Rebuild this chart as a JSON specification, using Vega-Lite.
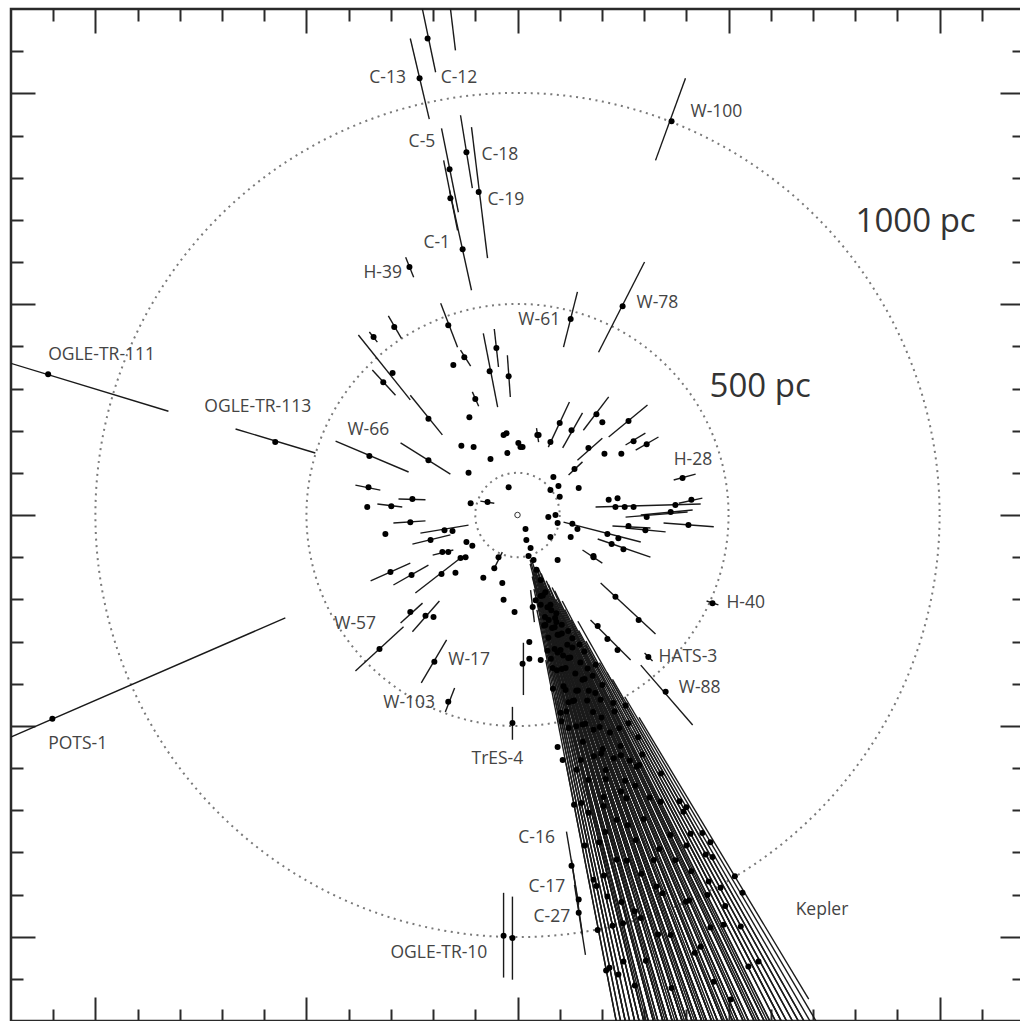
{
"$schema": "https://vega.github.io/schema/vega-lite/v6.json",
"width": 1013, "height": 1012,
"autosize": {"type": "none"},
"padding": {"left": 11, "top": 9, "right": 0, "bottom": 0},
"background": "white",
"config": {"view": {"stroke": "#2a2a2a", "strokeWidth": 2.5}},
"datasets": {
"rings": [{"cx": 0, "cy": 0, "r": 100}, {"cx": 0, "cy": 0, "r": 500}, {"cx": 0, "cy": 0, "r": 1000}],
"sun": [{"cx": 0, "cy": 0}],
"stars": [
{"x":-213,"y":1130,"x1":-232,"y1":1232,"x2":-194,"y2":1050},
{"x":-170,"y":1290,"x1":-166,"y1":1260,"x2":-147,"y2":1102},
{"x":-232,"y":1036,"x1":-254,"y1":1130,"x2":-209,"y2":939},
{"x":-161,"y":820,"x1":-180,"y1":917,"x2":-140,"y2":718},
{"x":-159,"y":751,"x1":-175,"y1":841,"x2":-142,"y2":675},
{"x":-130,"y":630,"x1":-161,"y1":770,"x2":-109,"y2":533},
{"x":-121,"y":860,"x1":-135,"y1":948,"x2":-107,"y2":775},
{"x":-92,"y":766,"x1":-109,"y1":920,"x2":-71,"y2":609},
{"x":-256,"y":588,"x1":-265,"y1":611,"x2":-246,"y2":564},
{"x":365,"y":934,"x1":398,"y1":1036,"x2":327,"y2":841},
{"x":249,"y":495,"x1":301,"y1":600,"x2":192,"y2":386},
{"x":126,"y":465,"x1":142,"y1":529,"x2":109,"y2":398},
{"x":-574,"y":173,"x1":-668,"y1":204,"x2":-479,"y2":147},
{"x":-1112,"y":334,"x1":-1300,"y1":390,"x2":-827,"y2":246},
{"x":-1102,"y":-483,"x1":-1300,"y1":-570,"x2":-550,"y2":-244},
{"x":-351,"y":140,"x1":-431,"y1":175,"x2":-258,"y2":102},
{"x":-327,"y":-318,"x1":-384,"y1":-370,"x2":-270,"y2":-265},
{"x":-197,"y":-348,"x1":-228,"y1":-398,"x2":-168,"y2":-296},
{"x":-164,"y":-443,"x1":-171,"y1":-467,"x2":-149,"y2":-410},
{"x":-12,"y":-493,"x1":-12,"y1":-455,"x2":-12,"y2":-533},
{"x":-33,"y":-998,"x1":-33,"y1":-896,"x2":-33,"y2":-1097},
{"x":-12,"y":-1003,"x1":-12,"y1":-905,"x2":-12,"y2":-1102},
{"x":128,"y":-832,"x1":116,"y1":-751,"x2":145,"y2":-924},
{"x":145,"y":-912,"x1":128,"y1":-818,"x2":154,"y2":-995},
{"x":145,"y":-943,"x1":135,"y1":-877,"x2":161,"y2":-1043},
{"x":462,"y":-209,"x1":448,"y1":-204,"x2":476,"y2":-213},
{"x":310,"y":-337,"x1":301,"y1":-327,"x2":320,"y2":-346},
{"x":351,"y":-419,"x1":292,"y1":-356,"x2":415,"y2":-498},
{"x":391,"y":88,"x1":370,"y1":83,"x2":422,"y2":97},
{"x":-164,"y":450,"x1":-182,"y1":502,"x2":-142,"y2":398},
{"x":-292,"y":446,"x1":-306,"y1":472,"x2":-275,"y2":419},
{"x":-341,"y":422,"x1":-351,"y1":434,"x2":-332,"y2":410},
{"x":-296,"y":337,"x1":-377,"y1":427,"x2":-254,"y2":273},
{"x":-211,"y":228,"x1":-254,"y1":284,"x2":-178,"y2":190},
{"x":-318,"y":315,"x1":-344,"y1":344,"x2":-289,"y2":284},
{"x":-126,"y":374,"x1":-135,"y1":391,"x2":-111,"y2":353},
{"x":-152,"y":356},
{"x":-66,"y":341,"x1":-81,"y1":431,"x2":-47,"y2":256},
{"x":-50,"y":396,"x1":-55,"y1":441,"x2":-45,"y2":351},
{"x":-21,"y":329,"x1":-24,"y1":379,"x2":-17,"y2":280},
{"x":-100,"y":275,"x1":-107,"y1":292,"x2":-92,"y2":258},
{"x":-114,"y":232},
{"x":-33,"y":190},{"x":-26,"y":194},{"x":-24,"y":147},{"x":2,"y":171},{"x":12,"y":161},
{"x":47,"y":190,"x1":45,"y1":206,"x2":50,"y2":173},
{"x":-133,"y":164},{"x":-104,"y":161},{"x":-64,"y":133},
{"x":-211,"y":130,"x1":-277,"y1":171,"x2":-159,"y2":97},
{"x":-116,"y":100},
{"x":-353,"y":66,"x1":-384,"y1":71,"x2":-325,"y2":59},
{"x":-21,"y":66},
{"x":-249,"y":38,"x1":-282,"y1":38,"x2":-218,"y2":36},
{"x":-356,"y":19},
{"x":-299,"y":21,"x1":-332,"y1":26,"x2":-273,"y2":19},
{"x":-111,"y":28},
{"x":-71,"y":31,"x1":-88,"y1":33,"x2":-55,"y2":28},
{"x":-254,"y":-17,"x1":-294,"y1":-19,"x2":-218,"y2":-14},
{"x":-313,"y":-45},
{"x":-173,"y":-36,"x1":-230,"y1":-43,"x2":-116,"y2":-24},
{"x":-154,"y":-38},
{"x":-206,"y":-59,"x1":-249,"y1":-69,"x2":-159,"y2":-47},
{"x":-121,"y":-64},{"x":-107,"y":-73},
{"x":-178,"y":-88,"x1":-201,"y1":-95,"x2":-152,"y2":-83},
{"x":-164,"y":-88},
{"x":-135,"y":-102},{"x":-123,"y":-100},
{"x":-301,"y":-135,"x1":-348,"y1":-156,"x2":-254,"y2":-114},
{"x":-251,"y":-142,"x1":-294,"y1":-166,"x2":-211,"y2":-119},
{"x":-180,"y":-140,"x1":-242,"y1":-185,"x2":-135,"y2":-102},
{"x":-147,"y":-137},
{"x":-45,"y":-100,"x1":-36,"y1":-88,"x2":-57,"y2":-130},
{"x":-55,"y":-126},{"x":-81,"y":-149},{"x":-36,"y":-161},{"x":-33,"y":-201},{"x":-7,"y":-230},
{"x":-254,"y":-230,"x1":-277,"y1":-256,"x2":-225,"y2":-209},
{"x":-218,"y":-239,"x1":-249,"y1":-277,"x2":-185,"y2":-204},
{"x":-199,"y":-242},
{"x":12,"y":-353,"x1":14,"y1":-303,"x2":14,"y2":-427},
{"x":28,"y":-301},{"x":28,"y":-341},
{"x":36,"y":-218,"x1":31,"y1":-178,"x2":40,"y2":-254},
{"x":100,"y":218,"x1":123,"y1":268,"x2":73,"y2":161},
{"x":128,"y":201,"x1":154,"y1":242,"x2":107,"y2":159},
{"x":187,"y":239,"x1":216,"y1":280,"x2":156,"y2":201},
{"x":201,"y":220},
{"x":263,"y":223,"x1":308,"y1":261,"x2":216,"y2":185},
{"x":275,"y":175,"x1":303,"y1":194,"x2":256,"y2":166},
{"x":306,"y":168,"x1":334,"y1":185,"x2":280,"y2":154},
{"x":168,"y":159,"x1":201,"y1":182,"x2":142,"y2":130},
{"x":206,"y":145},{"x":246,"y":145},
{"x":135,"y":109,"x1":154,"y1":126,"x2":121,"y2":95},
{"x":78,"y":173},{"x":50,"y":190},{"x":7,"y":161},
{"x":85,"y":90},{"x":97,"y":69},{"x":78,"y":59},{"x":100,"y":43},{"x":145,"y":64},
{"x":412,"y":36,"x1":382,"y1":28,"x2":438,"y2":40},
{"x":374,"y":24},
{"x":216,"y":36,"x1":185,"y1":19,"x2":434,"y2":26},
{"x":237,"y":40},{"x":232,"y":19},{"x":254,"y":19},{"x":275,"y":19},
{"x":363,"y":7,"x1":292,"y1":0,"x2":415,"y2":12},
{"x":306,"y":-5,"x1":256,"y1":-5,"x2":403,"y2":7},
{"x":405,"y":-24,"x1":346,"y1":-19,"x2":465,"y2":-28},
{"x":263,"y":-26,"x1":225,"y1":-26,"x2":315,"y2":-31},
{"x":303,"y":-36,"x1":256,"y1":-31,"x2":351,"y2":-40},
{"x":73,"y":-5},{"x":90,"y":0},{"x":95,"y":-19},
{"x":130,"y":-21},{"x":142,"y":-33},{"x":126,"y":-52},
{"x":213,"y":-45,"x1":109,"y1":-17,"x2":292,"y2":-64},
{"x":239,"y":-55},
{"x":223,"y":-69,"x1":190,"y1":-57,"x2":315,"y2":-100},
{"x":251,"y":-81},
{"x":78,"y":-52},
{"x":180,"y":-97,"x1":154,"y1":-83,"x2":201,"y2":-114},
{"x":232,"y":-194,"x1":197,"y1":-161,"x2":327,"y2":-282},
{"x":287,"y":-249},
{"x":190,"y":-263,"x1":173,"y1":-249,"x2":268,"y2":-344},
{"x":213,"y":-294},{"x":237,"y":-320},
{"x":95,"y":-107},{"x":180,"y":-100},
{"x":19,"y":-33},{"x":21,"y":-59},{"x":31,"y":-78},{"x":26,"y":-97},{"x":38,"y":-107},{"x":45,"y":-130},
{"x":55,"y":-154},{"x":66,"y":-183},{"x":43,"y":-202},{"x":78,"y":-213},{"x":92,"y":-254},{"x":66,"y":-261},
{"x":102,"y":-320},{"x":83,"y":-363},{"x":114,"y":-415},{"x":55,"y":-344},
{"x":95,"y":-550},{"x":107,"y":-581},{"x":102,"y":-469},{"x":168,"y":-706},{"x":180,"y":-865},{"x":213,"y":-905},
{"x":190,"y":-984},{"x":218,"y":-1074},{"x":239,"y":-1090},{"x":251,"y":-1059},{"x":393,"y":-704},{"x":438,"y":-754},
{"x":462,"y":-811},{"x":533,"y":-896},{"x":481,"y":-884},{"x":529,"y":-976},{"x":571,"y":-1059},{"x":547,"y":-1071},
{"x":488,"y":-972},{"x":450,"y":-901},{"x":465,"y":-1107},{"x":505,"y":-1149},{"x":434,"y":-1024},
{"x":134,"y":-687,"x1":67,"y1":-344,"x2":287,"y2":-1473},
{"x":210,"y":-1080,"x1":115,"y1":-589,"x2":287,"y2":-1473},
{"x":104,"y":-489,"x1":52,"y1":-245,"x2":312,"y2":-1467},
{"x":187,"y":-880,"x1":94,"y1":-440,"x2":312,"y2":-1467},
{"x":260,"y":-1223,"x1":146,"y1":-685,"x2":312,"y2":-1467},
{"x":79,"y":-341,"x1":45,"y1":-195,"x2":338,"y2":-1461},
{"x":140,"y":-604,"x1":74,"y1":-321,"x2":338,"y2":-1461},
{"x":225,"y":-974,"x1":126,"y1":-545,"x2":338,"y2":-1461},
{"x":73,"y":-291,"x1":36,"y1":-146,"x2":363,"y2":-1455},
{"x":116,"y":-466,"x1":63,"y1":-252,"x2":363,"y2":-1455},
{"x":194,"y":-776,"x1":102,"y1":-407,"x2":363,"y2":-1455},
{"x":278,"y":-1116,"x1":157,"y1":-631,"x2":363,"y2":-1455},
{"x":65,"y":-242,"x1":36,"y1":-135,"x2":389,"y2":-1449},
{"x":109,"y":-406,"x1":60,"y1":-222,"x2":389,"y2":-1449},
{"x":168,"y":-628,"x1":91,"y1":-338,"x2":389,"y2":-1449},
{"x":246,"y":-918,"x1":135,"y1":-502,"x2":389,"y2":-1449},
{"x":55,"y":-192,"x1":30,"y1":-106,"x2":414,"y2":-1442},
{"x":105,"y":-365,"x1":55,"y1":-192,"x2":414,"y2":-1442},
{"x":155,"y":-538,"x1":83,"y1":-288,"x2":414,"y2":-1442},
{"x":235,"y":-817,"x1":124,"y1":-432,"x2":414,"y2":-1442},
{"x":304,"y":-1057,"x1":166,"y1":-577,"x2":414,"y2":-1442},
{"x":82,"y":-268,"x1":44,"y1":-143,"x2":438,"y2":-1434},
{"x":134,"y":-440,"x1":73,"y1":-239,"x2":438,"y2":-1434},
{"x":204,"y":-669,"x1":111,"y1":-363,"x2":438,"y2":-1434},
{"x":292,"y":-956,"x1":164,"y1":-535,"x2":438,"y2":-1434},
{"x":71,"y":-219,"x1":40,"y1":-124,"x2":464,"y2":-1427},
{"x":108,"y":-333,"x1":59,"y1":-181,"x2":464,"y2":-1427},
{"x":161,"y":-495,"x1":87,"y1":-266,"x2":464,"y2":-1427},
{"x":235,"y":-723,"x1":124,"y1":-380,"x2":464,"y2":-1427},
{"x":365,"y":-1122,"x1":201,"y1":-618,"x2":464,"y2":-1427},
{"x":98,"y":-284,"x1":52,"y1":-151,"x2":489,"y2":-1419},
{"x":143,"y":-416,"x1":78,"y1":-227,"x2":489,"y2":-1419},
{"x":209,"y":-605,"x1":114,"y1":-331,"x2":489,"y2":-1419},
{"x":293,"y":-851,"x1":163,"y1":-473,"x2":489,"y2":-1419},
{"x":89,"y":-244,"x1":48,"y1":-132,"x2":513,"y2":-1410},
{"x":137,"y":-376,"x1":75,"y1":-207,"x2":513,"y2":-1410},
{"x":202,"y":-555,"x1":109,"y1":-301,"x2":513,"y2":-1410},
{"x":280,"y":-771,"x1":154,"y1":-423,"x2":513,"y2":-1410},
{"x":363,"y":-996,"x1":205,"y1":-564,"x2":513,"y2":-1410},
{"x":118,"y":-308,"x1":64,"y1":-168,"x2":537,"y2":-1401},
{"x":179,"y":-467,"x1":97,"y1":-252,"x2":537,"y2":-1401},
{"x":258,"y":-672,"x1":140,"y1":-364,"x2":537,"y2":-1401},
{"x":344,"y":-897,"x1":190,"y1":-495,"x2":537,"y2":-1401},
{"x":105,"y":-260,"x1":56,"y1":-139,"x2":563,"y2":-1391},
{"x":169,"y":-417,"x1":94,"y1":-232,"x2":563,"y2":-1391},
{"x":255,"y":-630,"x1":139,"y1":-343,"x2":563,"y2":-1391},
{"x":420,"y":-1038,"x1":233,"y1":-575,"x2":563,"y2":-1391},
{"x":149,"y":-350,"x1":82,"y1":-193,"x2":587,"y2":-1382},
{"x":219,"y":-516,"x1":117,"y1":-276,"x2":587,"y2":-1382},
{"x":336,"y":-792,"x1":184,"y1":-433,"x2":587,"y2":-1382},
{"x":130,"y":-292,"x1":73,"y1":-165,"x2":611,"y2":-1371},
{"x":244,"y":-548,"x1":134,"y1":-302,"x2":611,"y2":-1371},
{"x":407,"y":-914,"x1":224,"y1":-503,"x2":611,"y2":-1371},
{"x":178,"y":-381,"x1":97,"y1":-208,"x2":635,"y2":-1359},
{"x":313,"y":-670,"x1":169,"y1":-362,"x2":635,"y2":-1359},
{"x":457,"y":-978,"x1":254,"y1":-544,"x2":635,"y2":-1359},
{"x":158,"y":-324,"x1":88,"y1":-180,"x2":657,"y2":-1349},
{"x":289,"y":-593,"x1":158,"y1":-324,"x2":657,"y2":-1349},
{"x":412,"y":-845,"x1":228,"y1":-467,"x2":657,"y2":-1349},
{"x":227,"y":-446,"x1":127,"y1":-249,"x2":681,"y2":-1337},
{"x":400,"y":-784,"x1":218,"y1":-428,"x2":681,"y2":-1337},
{"x":263,"y":-494,"x1":145,"y1":-274,"x2":704,"y2":-1325},
{"x":492,"y":-927,"x1":272,"y1":-512,"x2":704,"y2":-1325},
{"x":340,"y":-613,"x1":194,"y1":-350,"x2":728,"y2":-1313},
{"x":446,"y":-805,"x1":252,"y1":-455,"x2":728,"y2":-1313},
{"x":400,"y":-693,"x1":225,"y1":-390,"x2":750,"y2":-1299},
{"x":515,"y":-857,"x1":288,"y1":-480,"x2":690,"y2":-1148},
{"x":84,"y":-412,"x1":46,"y1":-225,"x2":299,"y2":-1470},
{"x":159,"y":-784,"x1":88,"y1":-431,"x2":299,"y2":-1470},
{"x":71,"y":-322,"x1":39,"y1":-176,"x2":324,"y2":-1464},
{"x":151,"y":-683,"x1":82,"y1":-371,"x2":324,"y2":-1464},
{"x":63,"y":-262,"x1":35,"y1":-146,"x2":350,"y2":-1458},
{"x":121,"y":-505,"x1":68,"y1":-282,"x2":350,"y2":-1458},
{"x":205,"y":-855,"x1":112,"y1":-467,"x2":350,"y2":-1458},
{"x":55,"y":-213,"x1":30,"y1":-116,"x2":375,"y2":-1452},
{"x":150,"y":-581,"x1":80,"y1":-310,"x2":375,"y2":-1452},
{"x":250,"y":-968,"x1":135,"y1":-523,"x2":375,"y2":-1452},
{"x":88,"y":-318,"x1":48,"y1":-174,"x2":401,"y2":-1446},
{"x":139,"y":-501,"x1":75,"y1":-270,"x2":401,"y2":-1446},
{"x":208,"y":-752,"x1":112,"y1":-405,"x2":401,"y2":-1446},
{"x":74,"y":-249,"x1":40,"y1":-134,"x2":426,"y2":-1439},
{"x":131,"y":-441,"x1":71,"y1":-240,"x2":426,"y2":-1439},
{"x":204,"y":-690,"x1":111,"y1":-374,"x2":426,"y2":-1439},
{"x":278,"y":-940,"x1":153,"y1":-518,"x2":426,"y2":-1439},
{"x":60,"y":-191,"x1":33,"y1":-105,"x2":452,"y2":-1431},
{"x":114,"y":-363,"x1":60,"y1":-191,"x2":452,"y2":-1431},
{"x":181,"y":-572,"x1":99,"y1":-315,"x2":452,"y2":-1431},
{"x":259,"y":-820,"x1":141,"y1":-448,"x2":452,"y2":-1431},
{"x":95,"y":-284,"x1":51,"y1":-152,"x2":476,"y2":-1422},
{"x":139,"y":-417,"x1":76,"y1":-228,"x2":476,"y2":-1422},
{"x":209,"y":-626,"x1":114,"y1":-341,"x2":476,"y2":-1422},
{"x":333,"y":-995,"x1":184,"y1":-550,"x2":476,"y2":-1422},
{"x":80,"y":-226,"x1":43,"y1":-123,"x2":501,"y2":-1415},
{"x":120,"y":-339,"x1":67,"y1":-189,"x2":501,"y2":-1415},
{"x":180,"y":-509,"x1":97,"y1":-273,"x2":501,"y2":-1415},
{"x":261,"y":-736,"x1":140,"y1":-396,"x2":501,"y2":-1415},
{"x":105,"y":-281,"x1":56,"y1":-150,"x2":525,"y2":-1406},
{"x":165,"y":-440,"x1":91,"y1":-244,"x2":525,"y2":-1406},
{"x":245,"y":-656,"x1":133,"y1":-356,"x2":525,"y2":-1406},
{"x":329,"y":-881,"x1":182,"y1":-487,"x2":525,"y2":-1406},
{"x":92,"y":-233,"x1":51,"y1":-130,"x2":551,"y2":-1395},
{"x":154,"y":-391,"x1":84,"y1":-214,"x2":551,"y2":-1395},
{"x":228,"y":-577,"x1":125,"y1":-316,"x2":551,"y2":-1395},
{"x":323,"y":-818,"x1":176,"y1":-446,"x2":551,"y2":-1395},
{"x":130,"y":-314,"x1":73,"y1":-176,"x2":575,"y2":-1386},
{"x":199,"y":-480,"x1":107,"y1":-259,"x2":575,"y2":-1386},
{"x":299,"y":-721,"x1":161,"y1":-388,"x2":575,"y2":-1386},
{"x":120,"y":-275,"x1":68,"y1":-156,"x2":599,"y2":-1376},
{"x":184,"y":-422,"x1":100,"y1":-229,"x2":599,"y2":-1376},
{"x":279,"y":-642,"x1":152,"y1":-348,"x2":599,"y2":-1376},
{"x":399,"y":-917,"x1":219,"y1":-504,"x2":599,"y2":-1376},
{"x":166,"y":-364,"x1":91,"y1":-200,"x2":623,"y2":-1365},
{"x":266,"y":-582,"x1":145,"y1":-319,"x2":623,"y2":-1365},
{"x":374,"y":-819,"x1":208,"y1":-455,"x2":623,"y2":-1365},
{"x":147,"y":-307,"x1":82,"y1":-172,"x2":647,"y2":-1355},
{"x":241,"y":-506,"x1":134,"y1":-280,"x2":647,"y2":-1355},
{"x":362,"y":-759,"x1":198,"y1":-415,"x2":647,"y2":-1355},
{"x":201,"y":-403,"x1":112,"y1":-224,"x2":669,"y2":-1343},
{"x":339,"y":-680,"x1":187,"y1":-376,"x2":669,"y2":-1343},
{"x":185,"y":-355,"x1":106,"y1":-204,"x2":693,"y2":-1331},
{"x":296,"y":-568,"x1":162,"y1":-310,"x2":693,"y2":-1331},
{"x":453,"y":-869,"x1":249,"y1":-479,"x2":693,"y2":-1331},
{"x":286,"y":-527,"x1":162,"y1":-299,"x2":716,"y2":-1319},
{"x":410,"y":-756,"x1":224,"y1":-413,"x2":716,"y2":-1319},
{"x":256,"y":-452,"x1":143,"y1":-252,"x2":738,"y2":-1305},
{"x":384,"y":-679,"x1":212,"y1":-374,"x2":738,"y2":-1305},
{"x":457,"y":-776,"x1":254,"y1":-431,"x2":762,"y2":-1293},
{"x":95,"y":-326,"x1":53,"y1":-182,"x2":420,"y2":-1440},
{"x":154,"y":-497,"x1":83,"y1":-267,"x2":445,"y2":-1432},
{"x":88,"y":-266,"x1":47,"y1":-143,"x2":470,"y2":-1425},
{"x":198,"y":-566,"x1":109,"y1":-312,"x2":495,"y2":-1416},
{"x":125,"y":-338,"x1":69,"y1":-188,"x2":519,"y2":-1407},
{"x":195,"y":-503,"x1":109,"y1":-280,"x2":543,"y2":-1398},
{"x":159,"y":-389,"x1":87,"y1":-213,"x2":568,"y2":-1389},
{"x":245,"y":-570,"x1":134,"y1":-312,"x2":592,"y2":-1378},
{"x":197,"y":-438,"x1":107,"y1":-237,"x2":616,"y2":-1368},
{"x":282,"y":-597,"x1":154,"y1":-325,"x2":640,"y2":-1356},
{"x":230,"y":-466,"x1":128,"y1":-260,"x2":663,"y2":-1345},
{"x":121,"y":-444,"x1":66,"y1":-241,"x2":394,"y2":-1448},
{"x":93,"y":-368,"x1":52,"y1":-203,"x2":369,"y2":-1454}
],
"labels": [
{"x":-351,"y":1036,"label":"C-13"},{"x":-182,"y":1036,"label":"C-12"},
{"x":-258,"y":884,"label":"C-5"},{"x":-85,"y":853,"label":"C-18"},
{"x":-71,"y":747,"label":"C-19"},{"x":-223,"y":645,"label":"C-1"},
{"x":-365,"y":574,"label":"H-39"},{"x":410,"y":955,"label":"W-100"},
{"x":282,"y":502,"label":"W-78"},{"x":2,"y":462,"label":"W-61"},
{"x":-1112,"y":379,"label":"OGLE-TR-111"},{"x":-742,"y":256,"label":"OGLE-TR-113"},
{"x":-403,"y":201,"label":"W-66"},{"x":370,"y":130,"label":"H-28"},
{"x":495,"y":-209,"label":"H-40"},{"x":334,"y":-337,"label":"HATS-3"},
{"x":382,"y":-410,"label":"W-88"},{"x":-434,"y":-258,"label":"W-57"},
{"x":-164,"y":-344,"label":"W-17"},{"x":-318,"y":-446,"label":"W-103"},
{"x":-109,"y":-578,"label":"TrES-4"},{"x":-1112,"y":-543,"label":"POTS-1"},
{"x":2,"y":-766,"label":"C-16"},{"x":26,"y":-882,"label":"C-17"},
{"x":38,"y":-953,"label":"C-27"},{"x":-301,"y":-1038,"label":"OGLE-TR-10"},
{"x":659,"y":-936,"label":"Kepler"}
],
"big": [{"x":801,"y":694,"label":"1000 pc"},{"x":455,"y":303,"label":"500 pc"}]
},
"layer": [
{
"data": {"name": "rings"},
"mark": {"type": "point", "shape": "circle", "filled": false, "stroke": "#7a7a7a", "strokeWidth": 2, "strokeDash": [2, 4.5], "opacity": 1},
"encoding": {
"x": {"field": "cx", "type": "quantitative", "scale": {"domain": [-1200, 1200], "nice": false, "zero": false},
 "axis": {"orient": "bottom", "title": null, "labels": false, "domain": false, "grid": false, "tickColor": "#2a2a2a", "tickWidth": 2,
  "values": [-1100,-1000,-900,-800,-700,-600,-500,-400,-300,-200,-100,0,100,200,300,400,500,600,700,800,900,1000,1100],
  "tickSize": {"condition": {"test": "datum.value % 500 === 0", "value": -24}, "value": -12}}},
"y": {"field": "cy", "type": "quantitative", "scale": {"domain": [-1200, 1200], "nice": false, "zero": false},
 "axis": {"orient": "left", "title": null, "labels": false, "domain": false, "grid": false, "tickColor": "#2a2a2a", "tickWidth": 2,
  "values": [-1100,-1000,-900,-800,-700,-600,-500,-400,-300,-200,-100,0,100,200,300,400,500,600,700,800,900,1000,1100],
  "tickSize": {"condition": {"test": "datum.value % 500 === 0", "value": -24}, "value": -12}}},
"size": {"field": "r", "type": "quantitative", "scale": {"type": "pow", "exponent": 2, "domain": [0, 1000], "range": [0, 712674]}, "legend": null}
}
},
{
"data": {"name": "stars"},
"mark": {"type": "rule", "clip": true, "color": "#1a1a1a", "strokeWidth": 1.4},
"encoding": {
"x": {"field": "x1", "type": "quantitative", "scale": {"domain": [-1200, 1200], "nice": false, "zero": false}, "axis": null},
"y": {"field": "y1", "type": "quantitative", "scale": {"domain": [-1200, 1200], "nice": false, "zero": false}, "axis": null},
"x2": {"field": "x2"},
"y2": {"field": "y2"}
}
},
{
"data": {"name": "stars"},
"mark": {"type": "point", "shape": "circle", "filled": true, "clip": true, "color": "#000", "size": 36, "opacity": 1},
"encoding": {
"x": {"field": "x", "type": "quantitative", "scale": {"domain": [-1200, 1200], "nice": false, "zero": false},
 "axis": {"orient": "top", "title": null, "labels": false, "domain": false, "grid": false, "tickColor": "#2a2a2a", "tickWidth": 2,
  "values": [-1100,-1000,-900,-800,-700,-600,-500,-400,-300,-200,-100,0,100,200,300,400,500,600,700,800,900,1000,1100],
  "tickSize": {"condition": {"test": "datum.value % 500 === 0", "value": -24}, "value": -12}}},
"y": {"field": "y", "type": "quantitative", "scale": {"domain": [-1200, 1200], "nice": false, "zero": false},
 "axis": {"orient": "right", "title": null, "labels": false, "domain": false, "grid": false, "tickColor": "#2a2a2a", "tickWidth": 2,
  "values": [-1100,-1000,-900,-800,-700,-600,-500,-400,-300,-200,-100,0,100,200,300,400,500,600,700,800,900,1000,1100],
  "tickSize": {"condition": {"test": "datum.value % 500 === 0", "value": -24}, "value": -12}}}
}
},
{
"data": {"name": "sun"},
"mark": {"type": "point", "shape": "circle", "filled": false, "stroke": "#333", "strokeWidth": 1, "size": 30, "opacity": 1},
"encoding": {
"x": {"field": "cx", "type": "quantitative", "scale": {"domain": [-1200, 1200], "nice": false, "zero": false}, "axis": null},
"y": {"field": "cy", "type": "quantitative", "scale": {"domain": [-1200, 1200], "nice": false, "zero": false}, "axis": null}
}
},
{
"data": {"name": "labels"},
"mark": {"type": "text", "align": "left", "baseline": "middle", "font": "Open Sans", "fontSize": 17.5, "color": "#444"},
"encoding": {
"x": {"field": "x", "type": "quantitative", "scale": {"domain": [-1200, 1200], "nice": false, "zero": false}, "axis": null},
"y": {"field": "y", "type": "quantitative", "scale": {"domain": [-1200, 1200], "nice": false, "zero": false}, "axis": null},
"text": {"field": "label"}
}
},
{
"data": {"name": "big"},
"mark": {"type": "text", "align": "left", "baseline": "middle", "font": "Open Sans", "fontSize": 33, "color": "#333"},
"encoding": {
"x": {"field": "x", "type": "quantitative", "scale": {"domain": [-1200, 1200], "nice": false, "zero": false}, "axis": null},
"y": {"field": "y", "type": "quantitative", "scale": {"domain": [-1200, 1200], "nice": false, "zero": false}, "axis": null},
"text": {"field": "label"}
}
}
],
"resolve": {"axis": {"x": "independent", "y": "independent"}}
}
